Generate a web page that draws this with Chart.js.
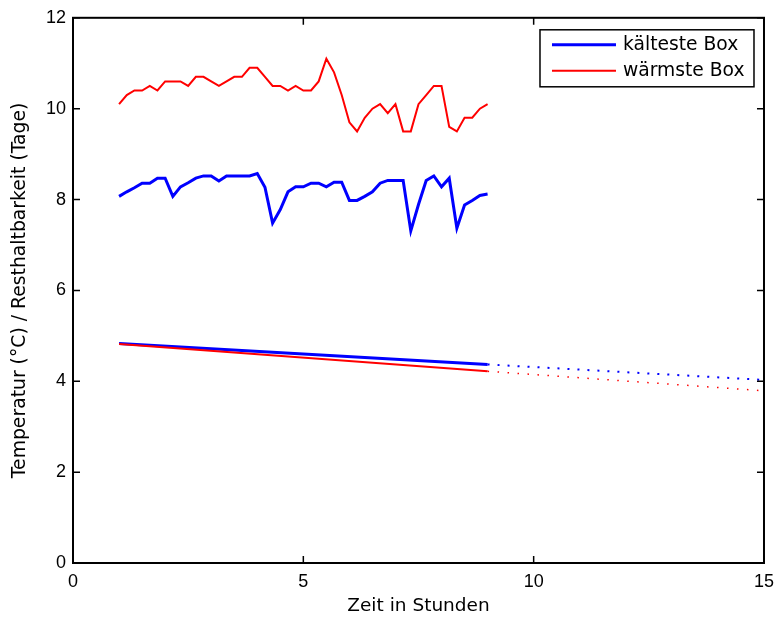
<!DOCTYPE html>
<html>
<head>
<meta charset="utf-8">
<script src="https://cdn.jsdelivr.net/npm/chart.js@4.4.0/dist/chart.umd.min.js"></script>
<style>
  html, body { margin: 0; padding: 0; background: #fff; }
  #wrap { width: 782px; height: 618px; }
</style>
</head>
<body>
<div id="wrap"><canvas id="myChart" width="782" height="618"></canvas></div>
<script>
'use strict';

// Messzeitpunkte (Stunden), alle 10 Minuten
const hours = [1, 1.167, 1.333, 1.5, 1.667, 1.833, 2, 2.167, 2.333, 2.5, 2.667, 2.833,
    3, 3.167, 3.333, 3.5, 3.667, 3.833, 4, 4.167, 4.333, 4.5, 4.667, 4.833,
    5, 5.167, 5.333, 5.5, 5.667, 5.833, 6, 6.167, 6.333, 6.5, 6.667, 6.833,
    7, 7.167, 7.333, 7.5, 7.667, 7.833, 8, 8.167, 8.333, 8.5, 8.667, 8.833, 9];

// Temperaturen (°C)
const tempKalt = [8.07, 8.17, 8.26, 8.36, 8.36, 8.47, 8.47, 8.07, 8.28, 8.37, 8.47, 8.52,
    8.52, 8.41, 8.52, 8.52, 8.52, 8.52, 8.57, 8.27, 7.48, 7.78, 8.17, 8.28,
    8.28, 8.36, 8.36, 8.28, 8.38, 8.38, 7.98, 7.98, 8.07, 8.17, 8.36, 8.42,
    8.42, 8.42, 7.31, 7.89, 8.42, 8.52, 8.28, 8.47, 7.37, 7.88, 7.98, 8.09, 8.12];
const tempWarm = [10.1, 10.3, 10.4, 10.4, 10.5, 10.4, 10.6, 10.6, 10.6, 10.5, 10.7, 10.7,
    10.6, 10.5, 10.6, 10.7, 10.7, 10.9, 10.9, 10.7, 10.5, 10.5, 10.4, 10.5,
    10.4, 10.4, 10.6, 11.1, 10.8, 10.3, 9.7, 9.5, 9.8, 10.0, 10.1, 9.9,
    10.1, 9.5, 9.5, 10.1, 10.3, 10.5, 10.5, 9.6, 9.5, 9.8, 9.8, 10.0, 10.1];

// Resthaltbarkeit (Tage): gemessen und Prognose
const restHours = [1, 9];
const restKalt = [4.83, 4.37];
const restWarm = [4.82, 4.22];
const forecastHours = [9, 15];
const forecastKalt = [4.37, 4.03];
const forecastWarm = [4.22, 3.79];

const xTicks = [0, 5, 10, 15];
const yTicks = [0, 2, 4, 6, 8, 10, 12];

const BLUE = '#0000ff';
const RED = '#ff0000';

function pts(xs, ys) {
    return xs.map((x, i) => ({ x: x, y: ys[i] }));
}

// Legende als Kasten innen oben rechts
const boxLegend = {
    id: 'boxLegend',
    afterDraw(chart) {
        const ctx = chart.ctx;
        const a = chart.chartArea;
        const w = 214, h = 57;
        const x0 = a.right - 10 - w, y0 = a.top + 12;
        ctx.save();
        ctx.fillStyle = '#fff';
        ctx.fillRect(x0, y0, w, h);
        ctx.strokeStyle = '#000';
        ctx.lineWidth = 1.5;
        ctx.strokeRect(x0, y0, w, h);
        const items = chart.data.datasets.filter(d => d.inLegend);
        ctx.font = '18.7px "DejaVu Sans"';
        ctx.textBaseline = 'middle';
        ctx.fillStyle = '#000';
        items.forEach((d, i) => {
            const y = y0 + 15 + i * 26;
            ctx.beginPath();
            ctx.strokeStyle = d.borderColor;
            ctx.lineWidth = d.borderWidth;
            ctx.moveTo(x0 + 12, y);
            ctx.lineTo(x0 + 76, y);
            ctx.stroke();
            ctx.fillText(d.label, x0 + 83, y);
        });
        ctx.restore();
    }
};

// Rahmen und nach innen zeigende Ticks (alle vier Seiten)
const axisBox = {
    id: 'axisBox',
    afterDatasetsDraw(chart) {
        const ctx = chart.ctx;
        const a = chart.chartArea;
        const xs = chart.scales.x, ys = chart.scales.y;
        const tl = 7;
        ctx.save();
        ctx.strokeStyle = '#000';
        ctx.lineWidth = 1.5;
        xTicks.forEach(v => {
            const px = xs.getPixelForValue(v);
            ctx.beginPath();
            ctx.moveTo(px, a.bottom); ctx.lineTo(px, a.bottom - tl);
            ctx.moveTo(px, a.top); ctx.lineTo(px, a.top + tl);
            ctx.stroke();
        });
        yTicks.forEach(v => {
            const py = ys.getPixelForValue(v);
            ctx.beginPath();
            ctx.moveTo(a.left, py); ctx.lineTo(a.left + tl, py);
            ctx.moveTo(a.right, py); ctx.lineTo(a.right - tl, py);
            ctx.stroke();
        });
        ctx.lineWidth = 2;
        ctx.strokeRect(a.left, a.top, a.right - a.left, a.bottom - a.top);
        ctx.restore();
    }
};

const config = {
    type: 'line',
    data: {
        datasets: [
            {
                label: 'kälteste Box',
                inLegend: true,
                data: pts(hours, tempKalt),
                borderColor: BLUE,
                borderWidth: 3
            },
            {
                label: 'wärmste Box',
                inLegend: true,
                data: pts(hours, tempWarm),
                borderColor: RED,
                borderWidth: 2
            },
            {
                label: 'Resthaltbarkeit warm',
                data: pts(restHours, restWarm),
                borderColor: RED,
                borderWidth: 2
            },
            {
                label: 'Resthaltbarkeit kalt',
                data: pts(restHours, restKalt),
                borderColor: BLUE,
                borderWidth: 3
            },
            {
                label: 'Prognose warm',
                data: pts(forecastHours, forecastWarm),
                borderColor: RED,
                borderWidth: 1.5,
                borderDash: [1.5, 8.5]
            },
            {
                label: 'Prognose kalt',
                data: pts(forecastHours, forecastKalt),
                borderColor: BLUE,
                borderWidth: 2,
                borderDash: [2, 8]
            }
        ]
    },
    options: {
        responsive: false,
        animation: false,
        events: [],
        layout: { padding: { top: 15, right: 14, left: 0, bottom: 0 } },
        elements: {
            point: { radius: 0 },
            line: { tension: 0, fill: false, borderCapStyle: 'butt', borderJoinStyle: 'miter' }
        },
        plugins: {
            legend: { display: false },
            tooltip: { enabled: false }
        },
        scales: {
            x: {
                type: 'linear',
                min: 0,
                max: 15,
                afterBuildTicks: s => { s.ticks = xTicks.map(v => ({ value: v })); },
                afterFit: s => { s.height = 55; },
                ticks: {
                    color: '#000',
                    padding: 8,
                    maxRotation: 0,
                    font: { family: '"Liberation Sans", Arial, sans-serif', size: 18 }
                },
                grid: { display: false, drawTicks: false },
                border: { display: false },
                title: {
                    display: true,
                    text: 'Zeit in Stunden',
                    color: '#000',
                    padding: { top: 1, bottom: 1 },
                    font: { family: '"DejaVu Sans", sans-serif', size: 18.5 }
                }
            },
            y: {
                type: 'linear',
                min: 0,
                max: 12,
                afterBuildTicks: s => { s.ticks = yTicks.map(v => ({ value: v })); },
                afterFit: s => { s.width = 73; },
                ticks: {
                    color: '#000',
                    padding: 7,
                    font: { family: '"Liberation Sans", Arial, sans-serif', size: 18 }
                },
                grid: { display: false, drawTicks: false },
                border: { display: false },
                title: {
                    display: true,
                    text: 'Temperatur (°C) / Resthaltbarkeit (Tage)',
                    color: '#000',
                    padding: { top: 9, bottom: 9 },
                    font: { family: '"DejaVu Sans", sans-serif', size: 18.8 }
                }
            }
        }
    },
    plugins: [axisBox, boxLegend]
};

const myChart = new Chart(document.getElementById('myChart'), config);
</script>
</body>
</html>
